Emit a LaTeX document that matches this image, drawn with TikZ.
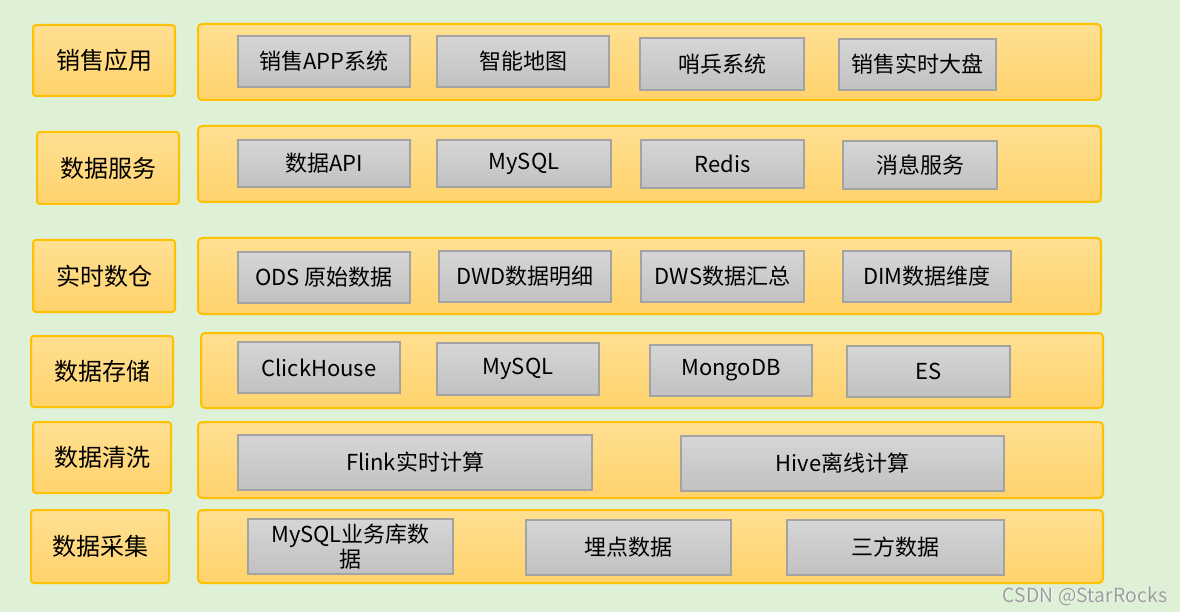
\documentclass[tikz,border=0pt]{standalone}
\usepackage{fontspec}
\setmainfont{Noto Sans CJK SC}
\definecolor{bg}{HTML}{DEF0D6}
\definecolor{orborder}{HTML}{FFC000}
\definecolor{ortop}{HTML}{FFDF92}
\definecolor{orbot}{HTML}{FFD36C}
\definecolor{grborder}{HTML}{A3A3A3}
\definecolor{grtop}{HTML}{D6D6D6}
\definecolor{grbot}{HTML}{C1C1C1}
\definecolor{wm}{HTML}{9E9E9E}
\tikzset{
  layerlabel/.style={draw=orborder, line width=2pt, rounded corners=3pt, top color=ortop, bottom color=orbot, font=\fontsize{24}{28}\selectfont, text=black, inner sep=0pt},
  layerrow/.style={draw=orborder, line width=2pt, rounded corners=4pt, top color=ortop, bottom color=orbot, inner sep=0pt},
  item/.style={draw=grborder, line width=2pt, top color=grtop, bottom color=grbot, font=\fontsize{22}{25}\selectfont, text=black, inner sep=0pt, align=center},
  watermark/.style={font=\fontsize{19.5}{22}\selectfont, text=wm}
}
\begin{document}
\begin{tikzpicture}[x=1pt,y=-1pt]
\useasboundingbox[fill=bg] (0,0) rectangle (1180,612);

% row backgrounds
\node[layerrow, minimum width=903pt, minimum height=76pt] (r1) at (649.5,62) {};
\node[layerrow, minimum width=903pt, minimum height=76pt] (r2) at (649.5,164) {};
\node[layerrow, minimum width=903pt, minimum height=76pt] (r3) at (649.5,276) {};
\node[layerrow, minimum width=902pt, minimum height=75pt] (r4) at (652,370.5) {};
\node[layerrow, minimum width=905pt, minimum height=76pt] (r5) at (650.5,460) {};
\node[layerrow, minimum width=905pt, minimum height=73pt] (r6) at (650.5,546.5) {};

% layer labels
\node[layerlabel, minimum width=142pt, minimum height=71pt] (l1) at (104,60.5) {销售应用};
\node[layerlabel, minimum width=142pt, minimum height=72pt] (l2) at (108,168) {数据服务};
\node[layerlabel, minimum width=142pt, minimum height=72pt] (l3) at (104,276) {实时数仓};
\node[layerlabel, minimum width=142pt, minimum height=71pt] (l4) at (102,371.5) {数据存储};
\node[layerlabel, minimum width=138pt, minimum height=71pt] (l5) at (102,457.5) {数据清洗};
\node[layerlabel, minimum width=138pt, minimum height=73pt] (l6) at (100,546.5) {数据采集};

% row 1
\node[item, minimum width=172pt, minimum height=51pt] (a1) at (324,61.5) {销售APP系统};
\node[item, minimum width=172pt, minimum height=51pt] (a2) at (523,61.5) {智能地图};
\node[item, minimum width=164pt, minimum height=52pt] (a3) at (722,64) {哨兵系统};
\node[item, minimum width=157pt, minimum height=51pt] (a4) at (917.5,64.5) {销售实时大盘};

% row 2
\node[item, minimum width=172pt, minimum height=47pt] (b1) at (324,163.5) {数据API};
\node[item, minimum width=174pt, minimum height=47pt] (b2) at (524,163.5) {MySQL};
\node[item, minimum width=163pt, minimum height=48pt] (b3) at (722.5,164) {Redis};
\node[item, minimum width=154pt, minimum height=48pt] (b4) at (920,165) {消息服务};

% row 3
\node[item, minimum width=172pt, minimum height=51pt] (c1) at (324,277.5) {ODS 原始数据};
\node[item, minimum width=172pt, minimum height=51pt] (c2) at (525,276.5) {DWD数据明细};
\node[item, minimum width=163pt, minimum height=51pt] (c3) at (722.5,276.5) {DWS数据汇总};
\node[item, minimum width=168pt, minimum height=51pt] (c4) at (927,276.5) {DIM数据维度};

% row 4
\node[item, minimum width=162pt, minimum height=51pt] (d1) at (319,367.5) {ClickHouse};
\node[item, minimum width=162pt, minimum height=52pt] (d2) at (518,369) {MySQL};
\node[item, minimum width=162pt, minimum height=51pt] (d3) at (731,370.5) {MongoDB};
\node[item, minimum width=163pt, minimum height=51pt] (d4) at (928.5,371.5) {ES};

% row 5
\node[item, minimum width=354pt, minimum height=55pt] (e1) at (415,462.5) {Flink实时计算};
\node[item, minimum width=323pt, minimum height=55pt] (e2) at (842.5,463.5) {Hive离线计算};

% row 6
\node[item, minimum width=205pt, minimum height=55pt, font=\fontsize{22}{23}\selectfont] (f1) at (350.5,546.5) {MySQL业务库数\\据};
\node[item, minimum width=205pt, minimum height=55pt] (f2) at (628.5,547.5) {埋点数据};
\node[item, minimum width=217pt, minimum height=55pt] (f3) at (895.5,547.5) {三方数据};

% watermark
\node[watermark, text=white] at (1085.7,596.7) {CSDN @StarRocks};
\node[watermark] (wmk) at (1085,596) {CSDN @StarRocks};
\end{tikzpicture}
\end{document}
